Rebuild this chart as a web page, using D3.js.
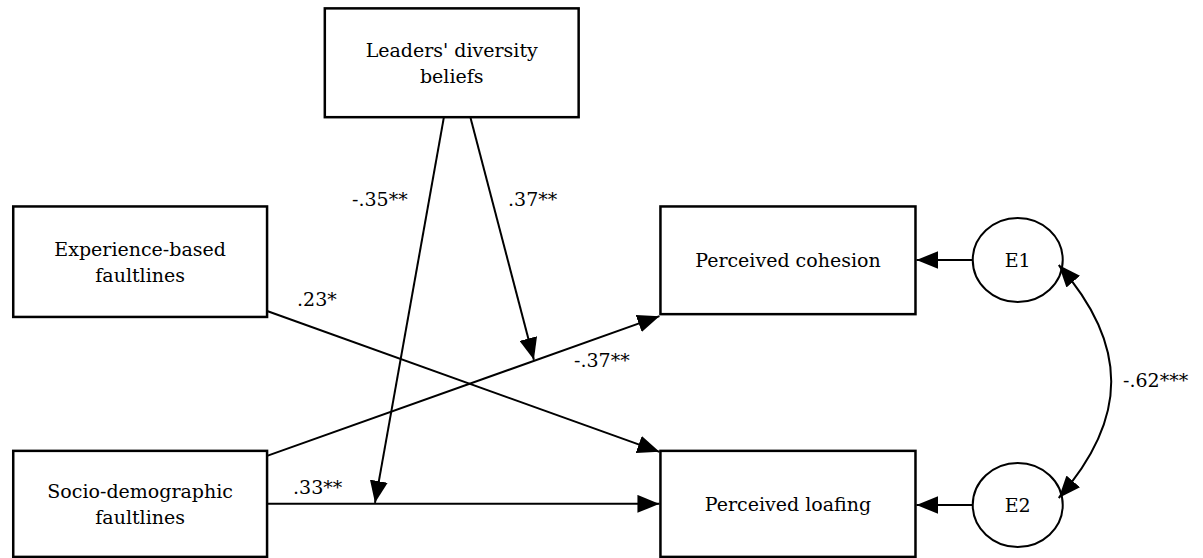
<!DOCTYPE html>
<html>
<head>
<meta charset="utf-8">
<script src="https://d3js.org/d3.v7.min.js"></script>
<style>
  body { margin: 0; background: #fff; }
</style>
</head>
<body>
<svg id="diagram" width="1203" height="558"></svg>
<script>
// --- data ---
var boxIds = ["leaders", "experience", "socio", "cohesion", "loafing"];
var boxLabels = [["Leaders' diversity", "beliefs"], ["Experience-based", "faultlines"], ["Socio-demographic", "faultlines"], ["Perceived cohesion"], ["Perceived loafing"]];
var errorIds = ["E1", "E2"];
var errorTargets = ["cohesion", "loafing"];
var pathFrom = ["experience", "socio", "socio"];
var pathTo = ["loafing", "cohesion", "loafing"];
var pathCoef = [".23*", "-.37**", ".33**"];
var moderatedPath = [2, 1];          // leaders moderates socio->loafing and socio->cohesion
var moderationCoef = ["-.35**", ".37**"];
var covarianceCoef = "-.62***";

// --- layout (grid units -> pixels through scales) ---
var svg = d3.select("#diagram")
    .style("font-family", "'DejaVu Serif', serif")
    .style("font-size", "19px");
var x = d3.scaleLinear().domain([0, 100]).range([0, 1203]);
var y = d3.scaleLinear().domain([0, 100]).range([0, 558]);

var layout = {
  leaders:    {x0: 27.0, x1: 48.1, y0: 1.5,  y1: 21.0},
  experience: {x0: 1.1,  x1: 22.2, y0: 37.0, y1: 56.8},
  socio:      {x0: 1.1,  x1: 22.2, y0: 80.8, y1: 99.8},
  cohesion:   {x0: 54.9, x1: 76.1, y0: 37.0, y1: 56.3},
  loafing:    {x0: 54.9, x1: 76.1, y0: 80.8, y1: 99.8}
};
var errLayout = {E1: {cx: 84.6, cy: 46.6}, E2: {cx: 84.6, cy: 90.5}};
var rx = 45, ry = 42;

var defs = svg.append("defs");
defs.append("marker")
    .attr("id", "head")
    .attr("markerUnits", "userSpaceOnUse")
    .attr("viewBox", "0 0 22 18")
    .attr("refX", 22).attr("refY", 9)
    .attr("markerWidth", 22).attr("markerHeight", 18)
    .attr("orient", "auto-start-reverse")
  .append("path")
    .attr("d", "M0,0 L22,9 L0,18 Z")
    .attr("fill", "#000");

function box(id) {
  var b = layout[id];
  return {x0: x(b.x0), x1: x(b.x1), y0: y(b.y0), y1: y(b.y1),
          cx: (x(b.x0) + x(b.x1)) / 2, cy: (y(b.y0) + y(b.y1)) / 2};
}

// boxes
var nodes = svg.append("g").selectAll("g")
  .data(boxIds)
  .enter().append("g");

nodes.append("rect")
    .attr("x", function(d) { return box(d).x0; })
    .attr("y", function(d) { return box(d).y0; })
    .attr("width", function(d) { return box(d).x1 - box(d).x0; })
    .attr("height", function(d) { return box(d).y1 - box(d).y0; })
    .attr("fill", "none")
    .attr("stroke", "#000")
    .attr("stroke-width", 2.5);

nodes.each(function(d, i) {
  var b = box(d), lines = boxLabels[i];
  var t = d3.select(this).append("text")
      .attr("text-anchor", "middle");
  lines.forEach(function(l, k) {
    t.append("tspan")
      .attr("x", b.cx)
      .attr("y", b.cy + 7 + (k - (lines.length - 1) / 2) * 26)
      .text(l);
  });
});

// direct paths: corner/edge anchors
function pathEnds(i) {
  var a = box(pathFrom[i]), b = box(pathTo[i]);
  if (Math.abs(a.cy - b.cy) < 5) return [[a.x1, a.cy], [b.x0 - 1, b.cy]];
  if (a.cy < b.cy) return [[a.x1, a.y1 - 6], [b.x0 - 1, b.y0 + 1]];
  return [[a.x1, a.y0 + 5], [b.x0 - 1, b.y1 + 2]];
}

var paths = svg.append("g");
pathCoef.forEach(function(c, i) {
  var e = pathEnds(i);
  paths.append("line")
    .attr("x1", e[0][0]).attr("y1", e[0][1])
    .attr("x2", e[1][0]).attr("y2", e[1][1])
    .attr("stroke", "#000").attr("stroke-width", 2)
    .attr("marker-end", "url(#head)");
});

// moderation arrows from leaders onto paths
var lb = box("leaders");
var modStart = [x(36.9), x(39.1)];
var modT = [0.275, 0.68];   // fraction along moderated path where the arrow lands
moderatedPath.forEach(function(p, k) {
  var e = pathEnds(p);
  var tx = e[0][0] + (e[1][0] - e[0][0]) * modT[k];
  var ty = e[0][1] + (e[1][1] - e[0][1]) * modT[k];
  paths.append("line")
    .attr("x1", modStart[k]).attr("y1", lb.y1)
    .attr("x2", tx).attr("y2", ty - 1)
    .attr("stroke", "#000").attr("stroke-width", 2)
    .attr("marker-end", "url(#head)");
});

// error terms
errorIds.forEach(function(id, i) {
  var e = errLayout[id], cx = x(e.cx), cy = y(e.cy);
  svg.append("ellipse")
    .attr("cx", cx).attr("cy", cy).attr("rx", rx).attr("ry", ry)
    .attr("fill", "none").attr("stroke", "#000").attr("stroke-width", 2);
  svg.append("text")
    .attr("x", cx).attr("y", cy + 7)
    .attr("text-anchor", "middle")
    .text(id);
  var t = box(errorTargets[i]);
  svg.append("line")
    .attr("x1", cx - rx).attr("y1", cy)
    .attr("x2", t.x1 + 1).attr("y2", cy)
    .attr("stroke", "#000").attr("stroke-width", 2)
    .attr("marker-end", "url(#head)");
});

// covariance between errors
var e1 = errLayout.E1, e2 = errLayout.E2;
var p = d3.path();
var sx = x(e1.cx) + 41, sy = y(e1.cy) + 5;
var ex = x(e2.cx) + 41, ey = y(e2.cy) - 7;
p.moveTo(sx, sy);
p.bezierCurveTo(sx + 70, sy + 80, ex + 70, ey - 80, ex, ey);
svg.append("path")
  .attr("d", p.toString())
  .attr("fill", "none").attr("stroke", "#000").attr("stroke-width", 2)
  .attr("marker-start", "url(#head)")
  .attr("marker-end", "url(#head)");

// coefficient labels
var labels = svg.append("g");
var pathLabelPos = [[297, 306], [574, 367], [293, 494]];
pathCoef.forEach(function(c, i) {
  labels.append("text").attr("x", pathLabelPos[i][0]).attr("y", pathLabelPos[i][1]).text(c);
});
var modLabelPos = [[352, 206], [508, 206]];
moderationCoef.forEach(function(c, i) {
  labels.append("text").attr("x", modLabelPos[i][0]).attr("y", modLabelPos[i][1]).text(c);
});
labels.append("text").attr("x", 1123).attr("y", 387).text(covarianceCoef);
</script>
</body>
</html>
